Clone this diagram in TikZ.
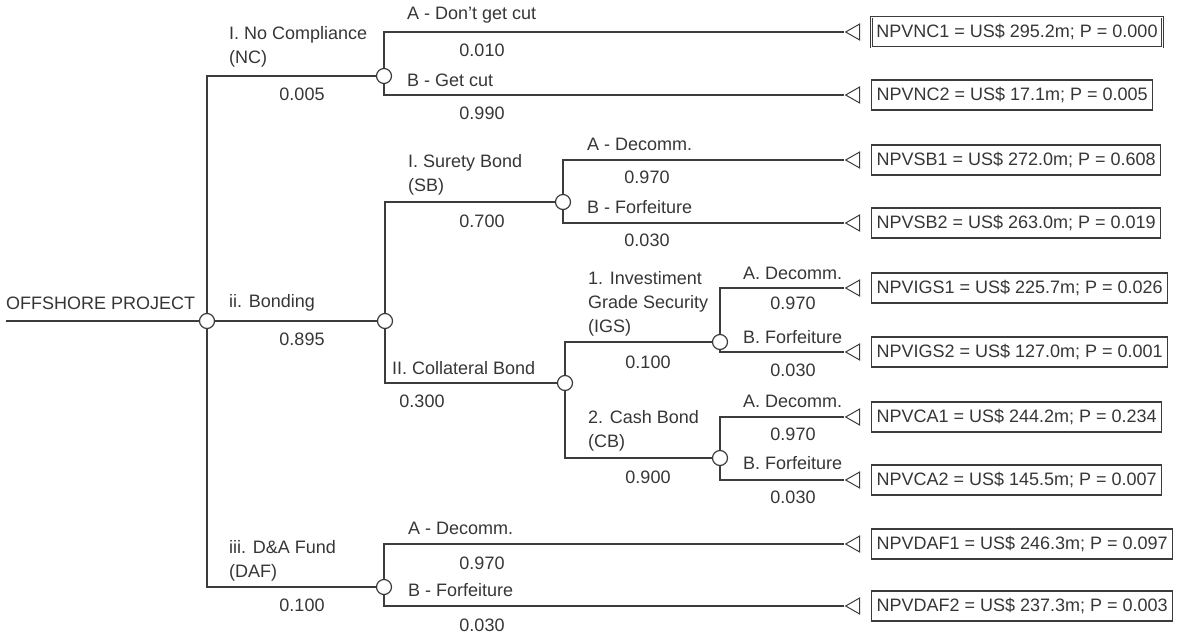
\documentclass[tikz,border=0pt]{standalone}
\usepackage{fontspec}
\setmainfont{Liberation Sans}
\usepackage{tikz}
\usetikzlibrary{shapes.geometric, positioning}
\usepackage{xcolor}
\definecolor{linec}{HTML}{3C3C3C}
\definecolor{textc}{HTML}{363636}
\newcommand{\treefont}{\fontsize{18}{24}\selectfont}

\begin{document}
\begin{tikzpicture}[
  x=1pt, y=-1pt,
  chance/.style={circle, draw=linec, fill=white, line width=1.2pt,
    minimum size=15pt, inner sep=0pt},
  endtri/.style={isosceles triangle, shape border rotate=180,
    isosceles triangle stretches, minimum width=16pt, minimum height=14pt,
    inner sep=0pt, draw=linec, fill=white, line width=1pt},
  payoff/.style={rectangle, draw=linec, line width=1.2pt, minimum height=30pt,
    inner xsep=5pt, anchor=west, font=\treefont, text=textc},
  lbl/.style={anchor=west, inner sep=0pt, align=left, font=\treefont, text=textc},
  prob/.style={inner sep=0pt, font=\treefont, text=textc},
  branch/.style={draw=linec, line width=1.5pt}
]
\useasboundingbox (0,0) rectangle (1184,635);

% decision / chance nodes
\coordinate (start) at (6,321);
\node[chance] (root) at (207,321) {};
\node[chance] (nc) at (384,76) {};
\node[chance] (bond) at (385,321) {};
\node[chance] (daf) at (384,587) {};
\node[chance] (sb) at (563,202) {};
\node[chance] (coll) at (565,383) {};
\node[chance] (igs) at (720,342) {};
\node[chance] (cash) at (720,458) {};

% end nodes
\node[endtri] (tnc1) at (855,32) {};
\node[endtri] (tnc2) at (855,95) {};
\node[endtri] (tsb1) at (855,160) {};
\node[endtri] (tsb2) at (855,223) {};
\node[endtri] (tigs1) at (855,288) {};
\node[endtri] (tigs2) at (855,352) {};
\node[endtri] (tca1) at (855,417) {};
\node[endtri] (tca2) at (855,480) {};
\node[endtri] (tdaf1) at (855,544) {};
\node[endtri] (tdaf2) at (855,606) {};

\node[payoff, double=white, double distance=1pt, line width=0.8pt] (bnc1) at (871,32) {NPVNC1 = US\$ 295.2m; P = 0.000};
\node[payoff] (bnc2) at (871,95) {NPVNC2 = US\$ 17.1m; P = 0.005};
\node[payoff] (bsb1) at (871,160) {NPVSB1 = US\$ 272.0m; P = 0.608};
\node[payoff] (bsb2) at (871,223) {NPVSB2 = US\$ 263.0m; P = 0.019};
\node[payoff] (bigs1) at (871,288) {NPVIGS1 = US\$ 225.7m; P = 0.026};
\node[payoff] (bigs2) at (871,352) {NPVIGS2 = US\$ 127.0m; P = 0.001};
\node[payoff] (bca1) at (871,417) {NPVCA1 = US\$ 244.2m; P = 0.234};
\node[payoff] (bca2) at (871,480) {NPVCA2 = US\$ 145.5m; P = 0.007};
\node[payoff] (bdaf1) at (871,544) {NPVDAF1 = US\$ 246.3m; P = 0.097};
\node[payoff] (bdaf2) at (871,606) {NPVDAF2 = US\$ 237.3m; P = 0.003};

% branches
\draw[branch] (start) -- (root);
\draw[branch] (root) |- (nc);
\draw[branch] (root) -- (bond);
\draw[branch] (root) |- (daf);
\draw[branch] (nc) |- (tnc1.apex);
\draw[branch] (nc) |- (tnc2.apex);
\draw[branch] (bond) |- (sb);
\draw[branch] (bond) |- (coll);
\draw[branch] (sb) |- (tsb1.apex);
\draw[branch] (sb) |- (tsb2.apex);
\draw[branch] (coll) |- (igs);
\draw[branch] (coll) |- (cash);
\draw[branch] (igs) |- (tigs1.apex);
\draw[branch] (igs) |- (tigs2.apex);
\draw[branch] (cash) |- (tca1.apex);
\draw[branch] (cash) |- (tca2.apex);
\draw[branch] (daf) |- (tdaf1.apex);
\draw[branch] (daf) |- (tdaf2.apex);

% branch labels and probabilities
\node[lbl] (lroot) at (6,303) {OFFSHORE PROJECT};
\node[lbl] (lnc) at (229,47) {I. No Compliance\\(NC)};
\node[prob] (pnc) at (302,94) {0.005};
\node[lbl] (lbond) at (229,303) {ii. Bonding};
\node[prob] (pbond) at (302,339) {0.895};
\node[lbl] (ldaf) at (229,561) {iii. D\&A Fund\\(DAF)};
\node[prob] (pdaf) at (302,605) {0.100};

\node[lbl] (lnc1) at (407,15) {A - Don't get cut};
\node[prob] (pnc1) at (482,50) {0.010};
\node[lbl] (lnc2) at (407,80) {B - Get cut};
\node[prob] (pnc2) at (482,113) {0.990};

\node[lbl] (lsb) at (408,175) {I. Surety Bond\\(SB)};
\node[prob] (psb) at (482,221) {0.700};
\node[lbl] (lcoll) at (392,368) {II. Collateral Bond};
\node[prob] (pcoll) at (422,401) {0.300};

\node[lbl] (lsb1) at (587,144) {A - Decomm.};
\node[prob] (psb1) at (647,177) {0.970};
\node[lbl] (lsb2) at (587,207) {B - Forfeiture};
\node[prob] (psb2) at (647,240) {0.030};

\node[lbl] (ligs) at (588,304) {1. Investiment\\Grade Security\\(IGS)};
\node[prob] (pigs) at (648,362) {0.100};
\node[lbl] (lcash) at (588,431) {2. Cash Bond\\(CB)};
\node[prob] (pcash) at (648,477) {0.900};

\node[lbl] (ligs1) at (743,273) {A. Decomm.};
\node[prob] (pigs1) at (793,303) {0.970};
\node[lbl] (ligs2) at (743,337) {B. Forfeiture};
\node[prob] (pigs2) at (793,370) {0.030};
\node[lbl] (lca1) at (743,401) {A. Decomm.};
\node[prob] (pca1) at (793,434) {0.970};
\node[lbl] (lca2) at (743,463) {B. Forfeiture};
\node[prob] (pca2) at (793,497) {0.030};

\node[lbl] (ldaf1) at (408,528) {A - Decomm.};
\node[prob] (pdaf1) at (482,563) {0.970};
\node[lbl] (ldaf2) at (408,590) {B - Forfeiture};
\node[prob] (pdaf2) at (482,625) {0.030};
\end{tikzpicture}
\end{document}
